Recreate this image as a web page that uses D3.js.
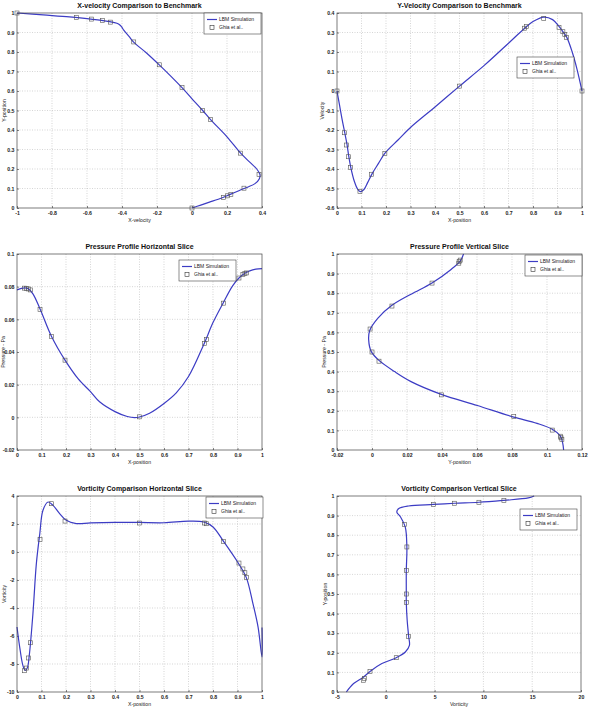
<!DOCTYPE html>
<html>
<head>
<meta charset="utf-8">
<script src="https://cdn.jsdelivr.net/npm/d3@7"></script>
<style>
  body { margin: 0; background: #fff; }
  svg { display: block; font-family: "Liberation Sans", Arial, sans-serif; }
  .tick text { font-size: 5.2px; font-weight: bold; fill: #222; }
  .title { font-size: 7px; font-weight: bold; fill: #111; }
  .alabel { font-size: 5.2px; fill: #222; }
  .legend text { font-size: 5px; fill: #222; }
</style>
</head>
<body>
<script>
// ---- data ----

// X-velocity along vertical centerline: [u, y]
var uSimPts = [[-1, 1], [-0.85, 0.99], [-0.7, 0.98], [-0.6, 0.971], [-0.5, 0.96], [-0.45, 0.952], [-0.42, 0.944],
  [-0.403, 0.93], [-0.39, 0.912], [-0.36, 0.88], [-0.335, 0.852], [-0.26, 0.795], [-0.187, 0.734],
  [-0.12, 0.675], [-0.057, 0.617], [0, 0.56], [0.061, 0.5], [0.106, 0.453], [0.2, 0.365], [0.278, 0.281],
  [0.33, 0.235], [0.37, 0.2], [0.388, 0.172], [0.385, 0.15], [0.36, 0.125], [0.32, 0.108], [0.297, 0.1],
  [0.24, 0.078], [0.2, 0.0625], [0.15, 0.045], [0.1, 0.03], [0.05, 0.015], [0, 0]]
var uGhia = [[-1, 1], [-0.659, 0.9766], [-0.575, 0.9688], [-0.511, 0.9609], [-0.466, 0.9531], [-0.333, 0.8516],
  [-0.187, 0.7344], [-0.057, 0.6172], [0.061, 0.5], [0.106, 0.4531], [0.278, 0.2813], [0.383, 0.1719],
  [0.297, 0.1016], [0.222, 0.0703], [0.202, 0.0625], [0.181, 0.0547], [0, 0]]

// Y-velocity along horizontal centerline: [x, v]
var vSimPts = [[0, 0], [0.01, -0.07], [0.02, -0.14], [0.031, -0.21], [0.041, -0.275], [0.048, -0.335],
  [0.056, -0.39], [0.07, -0.46], [0.085, -0.505], [0.095, -0.516], [0.11, -0.505], [0.125, -0.47],
  [0.143, -0.425], [0.17, -0.37], [0.195, -0.32], [0.25, -0.25], [0.3, -0.187], [0.4, -0.082],
  [0.5, 0.025], [0.6, 0.13], [0.7, 0.245], [0.766, 0.322], [0.8, 0.356], [0.844, 0.379], [0.88, 0.366],
  [0.906, 0.331], [0.922, 0.305], [0.938, 0.275], [0.96, 0.2], [0.98, 0.11], [1, 0]]
var vGhia = [[0, 0], [0.0312, -0.214], [0.0391, -0.277], [0.0469, -0.337], [0.0547, -0.392], [0.0937, -0.516],
  [0.1406, -0.427], [0.1953, -0.32], [0.5, 0.025], [0.7656, 0.322], [0.7734, 0.331], [0.8437, 0.371],
  [0.9062, 0.326], [0.9219, 0.304], [0.9297, 0.29], [0.9375, 0.275], [1, 0]]

// Pressure, horizontal slice: [x, p]
var pHSimPts = [[0, 0.078], [0.015, 0.0788], [0.031, 0.0793], [0.045, 0.0788], [0.065, 0.0756], [0.095, 0.066],
  [0.141, 0.0495], [0.196, 0.035], [0.25, 0.0235], [0.3, 0.0157], [0.337, 0.0095], [0.4, 0.0035],
  [0.45, 0.0005], [0.48, -0.0002], [0.5, 0.0002], [0.541, 0.0025], [0.6, 0.0085], [0.65, 0.015],
  [0.7, 0.025], [0.762, 0.0445], [0.8, 0.058], [0.841, 0.0699], [0.88, 0.0805], [0.906, 0.0853],
  [0.93, 0.0882], [0.95, 0.0897], [0.975, 0.0907], [1, 0.091]]
var pHGhia = [[0.031, 0.0791], [0.039, 0.0789], [0.047, 0.0786], [0.055, 0.078], [0.094, 0.066], [0.141, 0.0495],
  [0.196, 0.035], [0.5, 0.0003], [0.766, 0.0452], [0.773, 0.0476], [0.843, 0.0699], [0.906, 0.0853],
  [0.922, 0.0874], [0.93, 0.088], [0.937, 0.0884]]

// Pressure, vertical slice: [p, y]
var pVSimPts = [[0.0523, 1], [0.0505, 0.965], [0.045, 0.92], [0.0343, 0.852], [0.0223, 0.795], [0.0114, 0.738],
  [0.0034, 0.673], [-0.0013, 0.61], [-0.0019, 0.562], [-0.0004, 0.502], [0.004, 0.457], [0.0129, 0.4],
  [0.0223, 0.349], [0.0396, 0.284], [0.0602, 0.227], [0.081, 0.168], [0.0943, 0.136], [0.103, 0.106],
  [0.1076, 0.072], [0.109, 0.034], [0.1095, 0]]
var pVGhia = [[0.0504, 0.9688], [0.0498, 0.9609], [0.0496, 0.9531], [0.0343, 0.8516], [0.0114, 0.7344],
  [-0.0011, 0.6172], [0, 0.5], [0.004, 0.4531], [0.0396, 0.2813], [0.081, 0.1719], [0.103, 0.1016],
  [0.1076, 0.0703], [0.108, 0.0625], [0.1085, 0.0547]]

// Vorticity, horizontal slice: [x, w]
var wHSimPts = [[0, -5.36], [0.011, -6.79], [0.024, -8.1], [0.033, -8.45], [0.042, -8.29], [0.05, -7.4],
  [0.065, -4.4], [0.079, -0.83], [0.093, 1.3], [0.106, 2.98], [0.127, 3.57], [0.147, 3.33], [0.174, 2.74],
  [0.201, 2.26], [0.242, 2.03], [0.3, 2.08], [0.4, 2.12], [0.5, 2.11], [0.6, 2.09], [0.7, 2.2],
  [0.762, 2.14], [0.8, 1.79], [0.843, 0.76], [0.903, -0.79], [0.936, -1.83], [0.963, -3.69],
  [0.984, -5.36], [1, -7.5], [1, -5.4]]
var wHGhia = [[0.031, -8.48], [0.039, -8.29], [0.047, -7.57], [0.055, -6.48], [0.094, 0.9], [0.141, 3.45],
  [0.196, 2.21], [0.5, 2.07], [0.766, 2.07], [0.773, 2.02], [0.843, 0.76], [0.906, -0.79], [0.922, -1.21],
  [0.93, -1.48], [0.937, -1.83]]

// Vorticity, vertical slice: [w, y]
var wVSimPts = [[-4.04, 0], [-3.3, 0.043], [-2.27, 0.077], [-1.62, 0.105], [-0.4, 0.145], [1.07, 0.175],
  [2.0, 0.204], [2.42, 0.238], [2.34, 0.284], [2.19, 0.366], [2.1, 0.456], [2.1, 0.5], [2.1, 0.619],
  [2.16, 0.74], [1.99, 0.842], [1.51, 0.893], [1.13, 0.918], [1.3, 0.935], [2.33, 0.949], [4.9, 0.957],
  [7.05, 0.963], [9.54, 0.968], [12.1, 0.978], [14.6, 0.99], [15.2, 1]]
var wVGhia = [[4.9, 0.957], [7.05, 0.963], [9.54, 0.968], [12.1, 0.978], [1.9, 0.855], [2.16, 0.74],
  [2.1, 0.619], [2.1, 0.5], [2.1, 0.456], [2.34, 0.284], [1.07, 0.175], [-1.62, 0.105], [-2.2, 0.07],
  [-2.3, 0.06]]

var legendLabels = ['LBM Simulation', 'Ghia et al..']

// ---- panel layout ----
var panels = [
  {box: [17, 13, 262, 208], xd: [-1, 0.4], yd: [0, 1], xt: d3.range(-1, 0.41, 0.2), yt: d3.range(0, 1.01, 0.1),
    title: 'X-velocity Comparison to Benchmark', xl: 'X-velocity', yl: 'Y-position', ylx: 4,
    sim: uSimPts, ghia: uGhia, leg: [204, 13]},
  {box: [337, 13, 582, 208], xd: [0, 1], yd: [-0.6, 0.4], xt: d3.range(0, 1.01, 0.1), yt: d3.range(-0.6, 0.41, 0.1),
    title: 'Y-Velocity Comparison to Benchmark', xl: 'X-position', yl: 'Velocity', ylx: 322,
    sim: vSimPts, ghia: vGhia, leg: [517, 57]},
  {box: [17, 254, 262, 450], xd: [0, 1], yd: [-0.02, 0.1], xt: d3.range(0, 1.01, 0.1), yt: d3.range(-0.02, 0.101, 0.02),
    title: 'Pressure Profile Horizontal Slice', xl: 'X-position', yl: 'Pressure - Pa', ylx: 2.8,
    sim: pHSimPts, ghia: pHGhia, leg: [179, 260]},
  {box: [337, 254, 582, 450], xd: [-0.02, 0.12], yd: [0, 1], xt: d3.range(-0.02, 0.121, 0.02), yt: d3.range(0, 1.01, 0.1),
    title: 'Pressure Profile Vertical Slice', xl: 'Y-position', yl: 'Pressure - Pa', ylx: 324,
    sim: pVSimPts, ghia: pVGhia, leg: [525, 255]},
  {box: [17, 496, 262, 692], xd: [0, 1], yd: [-10, 4], xt: d3.range(0, 1.01, 0.1), yt: d3.range(-10, 4.1, 2),
    title: 'Vorticity Comparison Horizontal Slice', xl: 'X-position', yl: 'Vorticity', ylx: 4,
    sim: wHSimPts, ghia: wHGhia, leg: [206, 497]},
  {box: [337, 496, 581, 692], xd: [-5, 20], yd: [0, 1], xt: d3.range(-5, 20.1, 5), yt: d3.range(0, 1.01, 0.1),
    title: 'Vorticity Comparison Vertical Slice', xl: 'Vorticity', yl: 'Y-position', ylx: 325,
    sim: wVSimPts, ghia: wVGhia, leg: [520, 509]}
]

var svg = d3.select('body').append('svg').attr('width', 591).attr('height', 723)

var fmt = v => String(Math.round(v * 1000) / 1000)

panels.forEach(function (p) {
  var x = d3.scaleLinear().domain(p.xd).range([p.box[0], p.box[2]])
  var y = d3.scaleLinear().domain(p.yd).range([p.box[3], p.box[1]])
  var g = svg.append('g')

  // grid
  g.append('g').selectAll('line').data(p.xt.slice(1, -1)).join('line')
    .attr('x1', d => x(d)).attr('x2', d => x(d)).attr('y1', p.box[1]).attr('y2', p.box[3])
    .attr('stroke', '#bbb').attr('stroke-width', 0.6).attr('stroke-dasharray', '1,1.5')
  g.append('g').selectAll('line').data(p.yt.slice(1, -1)).join('line')
    .attr('y1', d => y(d)).attr('y2', d => y(d)).attr('x1', p.box[0]).attr('x2', p.box[2])
    .attr('stroke', '#bbb').attr('stroke-width', 0.6).attr('stroke-dasharray', '1,1.5')

  // axes (inner ticks, MATLAB style)
  g.append('g').attr('transform', `translate(0,${p.box[3]})`)
    .call(d3.axisBottom(x).tickValues(p.xt).tickFormat(fmt).tickSizeInner(-2).tickSizeOuter(0).tickPadding(3))
    .call(a => a.select('.domain').remove())
  g.append('g').attr('transform', `translate(${p.box[0]},0)`)
    .call(d3.axisLeft(y).tickValues(p.yt).tickFormat(fmt).tickSizeInner(-2).tickSizeOuter(0).tickPadding(2.5))
    .call(a => a.select('.domain').remove())
  g.selectAll('.tick line').attr('stroke', '#333').attr('stroke-width', 0.6)

  // curve
  var line = d3.line().x(d => x(d[0])).y(d => y(d[1])).curve(d3.curveCatmullRom.alpha(0.5))
  g.append('path').datum(p.sim).attr('d', line)
    .attr('fill', 'none').attr('stroke', '#3c3cc4').attr('stroke-width', 1.2)

  // benchmark markers
  g.append('g').selectAll('rect').data(p.ghia).join('rect')
    .attr('x', d => x(d[0]) - 2).attr('y', d => y(d[1]) - 2).attr('width', 4).attr('height', 4)
    .attr('fill', 'none').attr('stroke', '#555').attr('stroke-width', 0.6)

  // box
  g.append('rect').attr('x', p.box[0]).attr('y', p.box[1])
    .attr('width', p.box[2] - p.box[0]).attr('height', p.box[3] - p.box[1])
    .attr('fill', 'none').attr('stroke', '#444').attr('stroke-width', 0.7)

  // title and labels
  g.append('text').attr('class', 'title').attr('text-anchor', 'middle')
    .attr('x', (p.box[0] + p.box[2]) / 2).attr('y', p.box[1] - 5).text(p.title)
  g.append('text').attr('class', 'alabel').attr('text-anchor', 'middle')
    .attr('x', (p.box[0] + p.box[2]) / 2).attr('y', p.box[3] + 14).text(p.xl)
  g.append('text').attr('class', 'alabel').attr('text-anchor', 'middle')
    .attr('transform', `translate(${p.ylx + 1.8},${(p.box[1] + p.box[3]) / 2}) rotate(-90)`).text(p.yl)

  // legend
  var lg = g.append('g').attr('class', 'legend').attr('transform', `translate(${p.leg[0]},${p.leg[1]})`)
  lg.append('rect').attr('width', 57).attr('height', 21).attr('fill', '#fff')
    .attr('stroke', '#444').attr('stroke-width', 0.6)
  lg.append('line').attr('x1', 3).attr('x2', 13).attr('y1', 6.5).attr('y2', 6.5)
    .attr('stroke', '#3c3cc4').attr('stroke-width', 1.2)
  lg.append('rect').attr('x', 6).attr('y', 12.5).attr('width', 4).attr('height', 4)
    .attr('fill', 'none').attr('stroke', '#333').attr('stroke-width', 0.6)
  lg.selectAll('text').data(legendLabels).join('text')
    .attr('x', 15).attr('y', (d, i) => 8.3 + i * 7.7).text(d => d)
})
</script>
</body>
</html>
